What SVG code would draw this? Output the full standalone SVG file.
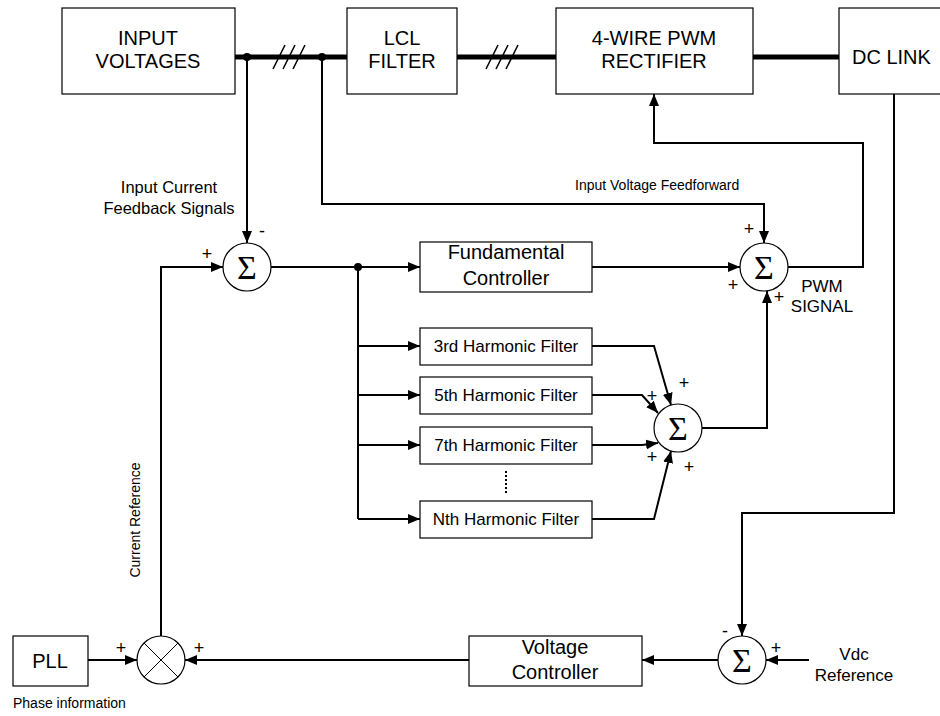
<svg xmlns="http://www.w3.org/2000/svg" width="940" height="716" viewBox="0 0 940 716">
<style>
.box{fill:#fff;stroke:#000;stroke-width:1.2}
.t{font-family:"Liberation Sans",Arial,sans-serif;fill:#000}
.c{text-anchor:middle}
.big{font-size:20px}
.mid{font-size:17px}
.sm{font-size:14px}
.sign{font-size:18px;text-anchor:middle}
.w{fill:none;stroke:#000;stroke-width:2}
.bus{fill:none;stroke:#000;stroke-width:5;stroke-linecap:round}
.sl{stroke:#000;stroke-width:1.5}
.sum{fill:#fff;stroke:#000;stroke-width:1.2}
.sig{font-family:"Liberation Serif","Times New Roman",serif;font-size:34px;text-anchor:middle}
</style>
<defs>
<marker id="ar" viewBox="0 0 12 10" refX="12" refY="5" markerWidth="12" markerHeight="10" markerUnits="userSpaceOnUse" orient="auto">
<path d="M0,0 L12,5 L0,10 Z" fill="#000"/>
</marker>
</defs>
<rect width="940" height="716" fill="#fff"/>

<g id="connectors">
<path class="bus" d="M235,57 H347"/>
<path class="bus" d="M457,57 H556"/>
<path class="bus" d="M753,57 H838"/>
<line class="sl" x1="273" y1="69" x2="285" y2="45"/>
<line class="sl" x1="283" y1="69" x2="295" y2="45"/>
<line class="sl" x1="293" y1="69" x2="305" y2="45"/>
<line class="sl" x1="486" y1="69" x2="498" y2="45"/>
<line class="sl" x1="496" y1="69" x2="508" y2="45"/>
<line class="sl" x1="506" y1="69" x2="518" y2="45"/>
<circle cx="247" cy="57" r="4"/>
<circle cx="322" cy="57" r="4"/>
<path class="w" d="M247,57 V243" marker-end="url(#ar)"/>
<path class="w" d="M322,57 V204 H764 V243" marker-end="url(#ar)"/>
<path class="w" d="M271,267 H420" marker-end="url(#ar)"/>
<circle cx="358" cy="267" r="4"/>
<path class="w" d="M358,267 V519"/>
<path class="w" d="M358,346 H420" marker-end="url(#ar)"/>
<path class="w" d="M358,395 H420" marker-end="url(#ar)"/>
<path class="w" d="M358,445 H420" marker-end="url(#ar)"/>
<path class="w" d="M358,519 H420" marker-end="url(#ar)"/>
<path class="w" d="M592,267 H740" marker-end="url(#ar)"/>
<path class="w" d="M788,267 H863 V143 H654 V94" marker-end="url(#ar)"/>
<path class="w" d="M894,94 V513 H742 V636" marker-end="url(#ar)"/>
<path class="w" d="M809,660 H766" marker-end="url(#ar)"/>
<path class="w" d="M718,660 H642" marker-end="url(#ar)"/>
<path class="w" d="M469,660 H185" marker-end="url(#ar)"/>
<path class="w" d="M88,660 H137" marker-end="url(#ar)"/>
<path class="w" d="M161,636 V267 H223" marker-end="url(#ar)"/>
<path class="w" d="M592,346 H654 L671,405" marker-end="url(#ar)"/>
<path class="w" d="M592,395 H642 L658,413" marker-end="url(#ar)"/>
<path class="w" d="M592,445 H642 L658,443" marker-end="url(#ar)"/>
<path class="w" d="M592,519 H654 L671,451" marker-end="url(#ar)"/>
<path class="w" d="M702,428 H767 V291" marker-end="url(#ar)"/>
<line x1="506" y1="471" x2="506" y2="493" stroke="#000" stroke-width="2" stroke-dasharray="2,2"/>
</g>

<g id="input-voltages">
<rect class="box" x="62" y="8" width="173" height="86"/>
<text class="t c big" x="148" y="45">INPUT</text>
<text class="t c big" x="148" y="68">VOLTAGES</text>
</g>
<g id="lcl-filter">
<rect class="box" x="347" y="8" width="110" height="86"/>
<text class="t c big" x="402" y="45">LCL</text>
<text class="t c big" x="402" y="68">FILTER</text>
</g>
<g id="rectifier">
<rect class="box" x="556" y="8" width="197" height="86"/>
<text class="t c big" x="654" y="45">4-WIRE PWM</text>
<text class="t c big" x="654" y="68">RECTIFIER</text>
</g>
<g id="dc-link">
<rect class="box" x="839" y="8" width="110" height="86"/>
<text class="t big" x="852" y="64">DC LINK</text>
</g>

<g id="sum1">
<circle class="sum" cx="247" cy="267" r="24"/>
<text class="sig" x="247" y="279">Σ</text>
<text class="t sign" x="262" y="237">-</text>
<text class="t sign" x="207" y="260">+</text>
</g>
<g id="fundamental">
<rect class="box" x="420" y="242" width="172" height="50"/>
<text class="t c big" x="506" y="259">Fundamental</text>
<text class="t c big" x="506" y="285">Controller</text>
</g>
<g id="sum2">
<circle class="sum" cx="764" cy="267" r="24"/>
<text class="sig" x="764" y="279">Σ</text>
<text class="t sign" x="749" y="235">+</text>
<text class="t sign" x="733" y="291">+</text>
<text class="t sign" x="779" y="303">+</text>
</g>
<g id="h3">
<rect class="box" x="420" y="328" width="172" height="37"/>
<text class="t c mid" x="506" y="352">3rd Harmonic Filter</text>
</g>
<g id="h5">
<rect class="box" x="420" y="377" width="172" height="37"/>
<text class="t c mid" x="506" y="401">5th Harmonic Filter</text>
</g>
<g id="h7">
<rect class="box" x="420" y="427" width="172" height="37"/>
<text class="t c mid" x="506" y="451">7th Harmonic Filter</text>
</g>
<g id="hn">
<rect class="box" x="420" y="501" width="172" height="37"/>
<text class="t c mid" x="506" y="525">Nth Harmonic Filter</text>
</g>
<g id="sum4">
<circle class="sum" cx="678" cy="428" r="24"/>
<text class="sig" x="678" y="440">Σ</text>
<text class="t sign" x="684" y="389">+</text>
<text class="t sign" x="652" y="402">+</text>
<text class="t sign" x="652" y="463">+</text>
<text class="t sign" x="689" y="473">+</text>
</g>
<g id="sum3">
<circle class="sum" cx="742" cy="660" r="24"/>
<text class="sig" x="742" y="672">Σ</text>
<text class="t sign" x="725" y="637">-</text>
<text class="t sign" x="776" y="654">+</text>
</g>
<g id="voltage-controller">
<rect class="box" x="469" y="636" width="173" height="50"/>
<text class="t c big" x="555" y="654">Voltage</text>
<text class="t c big" x="555" y="679">Controller</text>
</g>
<g id="pll">
<rect class="box" x="13" y="636" width="75" height="50"/>
<text class="t c big" x="50" y="668">PLL</text>
</g>
<g id="multiplier">
<circle class="sum" cx="161" cy="660" r="24"/>
<line x1="144" y1="643" x2="178" y2="677" stroke="#000" stroke-width="1"/>
<line x1="178" y1="643" x2="144" y2="677" stroke="#000" stroke-width="1"/>
<text class="t sign" x="121" y="654">+</text>
<text class="t sign" x="199" y="654">+</text>
</g>

<g id="labels">
<text class="t c" style="font-size:16.5px" x="169" y="193">Input Current</text>
<text class="t c" style="font-size:16.5px" x="169" y="214">Feedback Signals</text>
<text class="t sm" x="575" y="190">Input Voltage Feedforward</text>
<text class="t c mid" x="822" y="292">PWM</text>
<text class="t c mid" x="822" y="312">SIGNAL</text>
<text class="t c mid" x="854" y="660">Vdc</text>
<text class="t c mid" x="854" y="681">Reference</text>
<text class="t sm" x="13" y="708">Phase information</text>
<text class="t c sm" transform="translate(140,520) rotate(-90)">Current Reference</text>
</g>
</svg>
